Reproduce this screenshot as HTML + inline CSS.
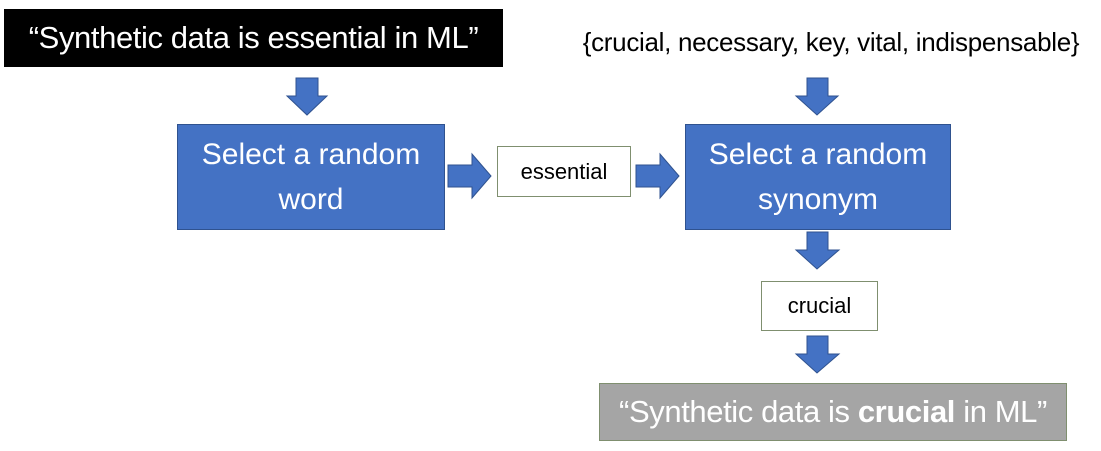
<!DOCTYPE html>
<html><head><style>
body{margin:0;width:1101px;height:451px;background:#fff;position:relative;overflow:hidden;font-family:"Liberation Sans",sans-serif}
.b{position:absolute;display:flex;align-items:center;justify-content:center;text-align:center;box-sizing:border-box;white-space:nowrap}
.blue{background:#4472c4;border:1.5px solid #2f528f;color:#fff;font-size:30px;line-height:45px}
.wb{background:#fff;border:1.5px solid #7f8f6f;color:#000;font-size:22px}
svg{position:absolute;left:0;top:0}
</style></head><body>
<div class="b" style="left:4px;top:9px;width:499px;height:58px;background:#000;color:#fff;font-size:31px;letter-spacing:-0.4px">“Synthetic data is essential in ML”</div>
<div class="b" style="left:556px;top:25px;width:550px;height:34px;font-size:26px;color:#000;letter-spacing:-0.3px">{crucial, necessary, key, vital, indispensable}</div>
<div class="b blue" style="left:177px;top:124px;width:268px;height:106px">Select a random<br>word</div>
<div class="b wb" style="left:497px;top:146px;width:134px;height:51px">essential</div>
<div class="b blue" style="left:685px;top:124px;width:266px;height:106px">Select a random<br>synonym</div>
<div class="b wb" style="left:761px;top:281px;width:117px;height:50px">crucial</div>
<div class="b" style="left:599px;top:383px;width:468px;height:58px;background:#a5a5a5;border:1.5px solid #7f8f6f;color:#fff;font-size:31px;letter-spacing:-0.4px">“Synthetic data is&nbsp;<b>crucial</b>&nbsp;in ML”</div>
<svg width="1101" height="451">
<g fill="#4472c4" stroke="#2f528f" stroke-width="1">
<polygon points="296,78 318,78 318,96 327,96 307,115 287,96 296,96"/>
<polygon points="807,78 828,78 828,96 838,96 817,115 796,96 807,96"/>
<polygon points="807,232 828,232 828,250 839,250 817,269 796,250 807,250"/>
<polygon points="807,336 828,336 828,354 839,354 817,373 796,354 807,354"/>
<polygon points="448,165 472,165 472,154 491,176 472,198 472,187 448,187"/>
<polygon points="636,165 660,165 660,154 679,176 660,198 660,187 636,187"/>
</g>
</svg>
</body></html>
